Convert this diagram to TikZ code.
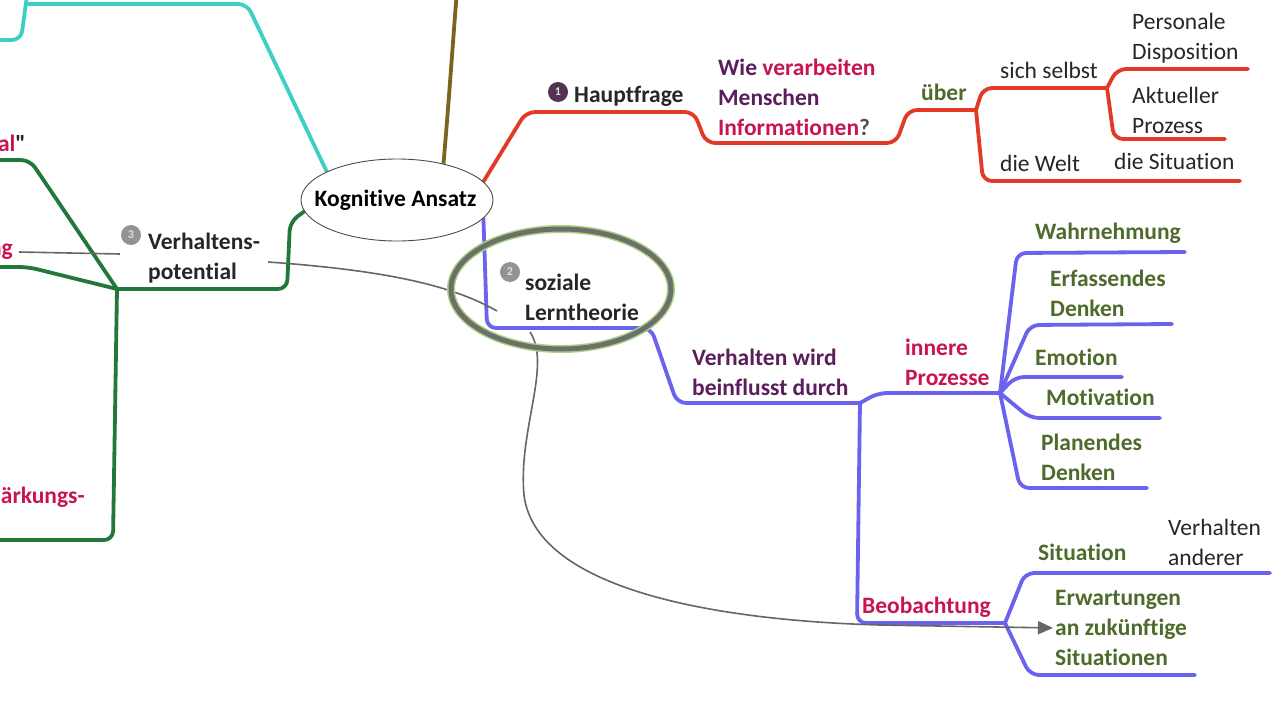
\documentclass[tikz,border=0pt]{standalone}
\usepackage{fontspec}
\setmainfont{Carlito}[Ligatures={NoCommon,TeXOff}]
\usetikzlibrary{arrows.meta,shapes.geometric}
\pgfdeclarelayer{back}
\pgfdeclarelayer{bg}
\pgfsetlayers{back,bg,main}
\definecolor{cyanbr}{HTML}{3CCFC4}
\definecolor{olivebr}{HTML}{7B6420}
\definecolor{redbr}{HTML}{E33A28}
\definecolor{greenbr}{HTML}{22783A}
\definecolor{bluebr}{HTML}{6B63EE}
\definecolor{graylink}{HTML}{666666}
\definecolor{txtdark}{HTML}{262626}
\definecolor{txtpurple}{HTML}{5A1E5C}
\definecolor{txtcrimson}{HTML}{C8154F}
\definecolor{txtolive}{HTML}{4E6B2B}
\definecolor{halo}{HTML}{A6D67A}
\definecolor{ringgray}{HTML}{6E6E6E}
\begin{document}
\begin{tikzpicture}[x=1pt,y=-1pt,
  branch/.style={line width=3.8pt, rounded corners=9pt, line cap=round, line join=round},
  link/.style={line width=1.6pt, draw=graylink},
  lb/.style={font=\fontsize{23.5}{30}\selectfont\bfseries, inner sep=0pt, anchor=west, align=left, text=txtdark},
  lr/.style={font=\fontsize{23.5}{30}\selectfont, inner sep=0pt, anchor=west, align=left, text=txtdark},
  icon/.style={circle, minimum size=20pt, inner sep=0pt, font=\fontsize{12}{12}\selectfont\bfseries, text=white!75!gray},
]
\begin{pgfonlayer}{back}
\fill[white] (0,0) rectangle (1280,720);
\end{pgfonlayer}
\useasboundingbox (0,0) rectangle (1280,720);

% ---------- central nodes ----------
\node[ellipse, draw=black!70, line width=0.9pt, fill=white, minimum width=192pt, minimum height=82pt, inner sep=0pt,
      font=\fontsize{23.5}{30}\selectfont\bfseries, text=black] (kog) at (397,200) {\makebox[100pt]{Kognitive Ansatz\hspace{3pt}}};
\node[ellipse, draw=halo, line width=8pt, minimum width=220pt, minimum height=120pt] (sozh) at (561,289) {};
\node[ellipse, draw=ringgray, line width=5pt, minimum width=220pt, minimum height=120pt] (soz) at (561,289) {};

% ---------- labels ----------
\node[icon, fill=black!60!violet!60!gray] (i1) at (558,92) {1};
\node[lb] (haupt) at (574,96) {Hauptfrage};
\node[lb] (wie) at (718,97) {\textcolor{txtpurple}{Wie} \textcolor{txtcrimson}{verarbeiten}\\\textcolor{txtpurple}{Menschen}\\\textcolor{txtcrimson}{Informationen}\textcolor{txtdark!80}{?}};
\node[lb, text=txtolive] (ueber) at (921,92) {über};
\node[lr] (sich) at (1000,70) {sich selbst};
\node[lr] (welt) at (1000,163) {die Welt};
\node[lr] (pers) at (1132,38) {Personale\\Disposition};
\node[lr] (akt) at (1132,110) {Aktueller\\Prozess};
\node[lr] (situ) at (1114,161) {die Situation};

\node[icon, fill=gray!85] (i3) at (131,235) {3};
\node[lb] (verh) at (148,258) {Verhaltens-\\potential};
\node[icon, fill=gray!85] (i2) at (510,272) {2};
\node[lb] (sozt) at (525,297) {soziale\\Lerntheorie};

\node[lb, text=txtpurple] (vwb) at (692,372) {Verhalten wird\\beinflusst durch};
\node[lb, text=txtcrimson] (inn) at (905,362) {innere\\Prozesse};
\node[lb, text=txtolive] (wahr) at (1035,233) {Wahrnehmung};
\node[lb, text=txtolive] (erf) at (1050,293) {Erfassendes\\Denken};
\node[lb, text=txtolive] (emo) at (1035,357) {Emotion};
\node[lb, text=txtolive] (mot) at (1046,397) {Motivation};
\node[lb, text=txtolive] (plan) at (1041,457) {Planendes\\Denken};
\node[lb, text=txtcrimson] (beob) at (862,607) {Beobachtung};
\node[lb, text=txtolive] (sit) at (1038,552) {Situation};
\node[lr] (vand) at (1168,542) {Verhalten\\anderer};
\node[lb, text=txtolive] (erw) at (1055,628) {Erwartungen\\an zukünftige\\Situationen};

\node[lb, text=txtcrimson, anchor=east] (al) at (26,143) {al\textcolor{txtdark}{"}};
\node[lb, text=txtcrimson, anchor=east] (ng) at (13,252) {ng};
\node[lb, text=txtcrimson, anchor=east] (staerk) at (85,497) {ärkungs-};

% ---------- fork points ----------
\coordinate (fR1) at (976,110);
\coordinate (fR2) at (1107,88);
\coordinate (fG) at (117,289);
\coordinate (fB1) at (860,403);
\coordinate (fB2) at (1000,393);
\coordinate (fB3) at (1005,623);
\coordinate (lkEnd) at (497,311);
\coordinate (arStart) at (530,332);
\coordinate (ngEnd) at (120,254);

\begin{pgfonlayer}{bg}
% cyan
\draw[branch, cyanbr] (kog.158) -- (247,4) -- (27,4);
\draw[branch, cyanbr] (28,-12) -- (21,40) -- (-12,40);
% olive
\draw[line width=3.8pt, olivebr] (kog.38) .. controls (449,100) and (453,40) .. (457,-10);
% red
\draw[branch, redbr] (kog.12) -- (526,112) -- (694,112) -- (706,143) -- (896,143) -- (908,110) -- (fR1);
\draw[branch, redbr] (fR1) -- (983,88) -- (fR2);
\draw[branch, redbr] (fR1) -- (983,181) -- (1240,181);
\draw[branch, redbr] (fR2) -- (1117,69) -- (1248,69);
\draw[branch, redbr] (fR2) -- (1114,139) -- (1225,139);
% green
\draw[branch, greenbr] (kog.187) -- (290,222) -- (287,289) -- (fG);
\draw[branch, greenbr] (fG) -- (30,160) -- (-12,160);
\draw[branch, greenbr] (fG) -- (28,267) -- (-12,267);
\draw[branch, greenbr] (fG) -- (113,540) -- (-12,540);
% blue
\draw[branch, bluebr] (kog.-12) -- (487,328) -- (651,328) -- (677,403) -- (fB1);
\draw[branch, bluebr] (fB1) -- (878,393) -- (fB2);
\draw[branch, bluebr] (fB1) -- (857,623) -- (fB3);
\draw[branch, bluebr] (fB2) -- (1017,253) -- (1185,252);
\draw[branch, bluebr] (fB2) -- (1030,325) -- (1172,324);
\draw[branch, bluebr] (fB2) -- (1015,377) -- (1122,377);
\draw[branch, bluebr] (fB2) -- (1030,418) -- (1160,418);
\draw[branch, bluebr] (fB2) -- (1020,488) -- (1147,488);
\draw[branch, bluebr] (fB3) -- (1025,573) -- (1270,573);
\draw[branch, bluebr] (fB3) -- (1030,675) -- (1195,675);
% gray links
\draw[link] (ng.east) ++(6,0) -- (ngEnd);
\draw[link] ([xshift=8pt,yshift=-4pt]verh.east) .. controls (380,270) and (450,284) .. (lkEnd);
\draw[link, -{Triangle[length=15pt,width=13pt]}, shorten >=2pt] (arStart) .. controls (552,365) and (518,430) .. (524,495) .. controls (535,585) and (700,620) .. (880,625) -- (erw.west);
\end{pgfonlayer}
\end{tikzpicture}
\end{document}
